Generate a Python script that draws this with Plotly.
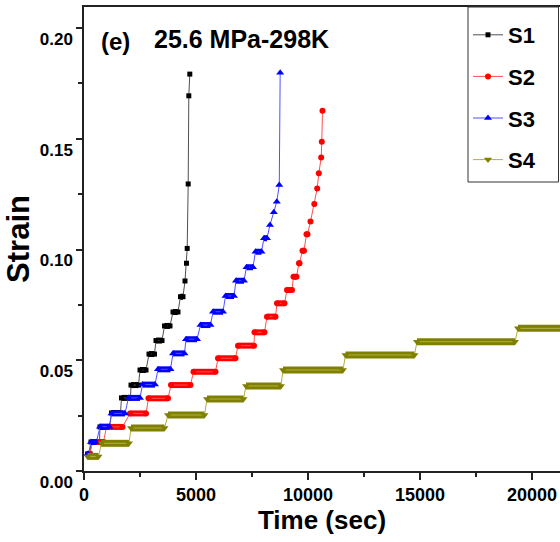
import plotly.graph_objects as go

# ---------------- data ----------------
# Each series: plateau start time, plateau end time (sec), strain level
s1_start  = [160, 312, 714, 1228, 1674, 2098, 2500, 2902, 3214, 3594, 3973, 4308, 4509, 4576, 4607, 4652, 4679, 4723]
s1_end    = [268, 692, 1138, 1629, 2076, 2433, 2768, 3147, 3482, 3839, 4196, 4419, 4509, 4576, 4607, 4652, 4679, 4723]
s1_strain = [0.0077, 0.0131, 0.0199, 0.0262, 0.0330, 0.0388, 0.0456, 0.0528, 0.0589, 0.0655, 0.0718, 0.0787,
             0.0858, 0.0938, 0.1005, 0.1296, 0.1694, 0.1792]

s2_start  = [223, 380, 1004, 2053, 2879, 3884, 4888, 5982, 6875, 7611, 8169, 8616, 9062, 9352, 9598, 9754,
             9933, 10111, 10281, 10410, 10482, 10589, 10616, 10647]
s2_end    = [268, 870, 1719, 2768, 3750, 4754, 5870, 6763, 7589, 8058, 8549, 8950, 9285, 9486, 9620, 9821,
             9977, 10111, 10281, 10410, 10482, 10589, 10616, 10647]
s2_strain = [0.0077, 0.0131, 0.0199, 0.0260, 0.0328, 0.0388, 0.0448, 0.0509, 0.0566, 0.0626, 0.0697, 0.0757,
             0.0817, 0.0877, 0.0938, 0.0995, 0.1069, 0.1126, 0.1205, 0.1276, 0.1344, 0.1416, 0.1487, 0.1627]

s3_start  = [156, 312, 714, 1228, 1986, 2611, 3303, 3973, 4553, 5201, 5759, 6317, 6785, 7254, 7656, 8035,
             8303, 8473, 8607, 8718, 8758]
s3_end    = [200, 558, 1138, 1830, 2500, 3169, 3861, 4486, 5044, 5647, 6205, 6696, 7142, 7544, 7924, 8169,
             8303, 8473, 8607, 8718, 8758]
s3_strain = [0.0077, 0.0131, 0.0200, 0.0260, 0.0330, 0.0390, 0.0459, 0.0531, 0.0595, 0.0659, 0.0719, 0.0790,
             0.0859, 0.0920, 0.0990, 0.1051, 0.1111, 0.1168, 0.1216, 0.1291, 0.1798]

s4_start  = [156, 781, 2098, 3750, 5491, 7232, 8884, 11674, 14865, 19374]
s4_end    = [647, 2009, 3594, 5379, 7120, 8794, 11562, 14754, 19240, 21600]
s4_strain = [0.0066, 0.0125, 0.0194, 0.0253, 0.0325, 0.0384, 0.0456, 0.0524, 0.0584, 0.0644]

series_names = ["S1", "S2", "S3", "S4"]
x_ticks = [0, 5000, 10000, 15000, 20000]
x_ticktext = ["0", "5000", "10000", "15000", "20000"]
y_ticks = [0.00, 0.05, 0.10, 0.15, 0.20]
y_ticktext = ["0.00", "0.05", "0.10", "0.15", "0.20"]

# ---------------- styling ----------------
FONT = "Liberation Sans, Arial, sans-serif"
styles = [
    dict(color="#000000", line="#505050", symbol="square", size=5, bar=6),
    dict(color="#ff0000", line="#ff5050", symbol="circle", size=6, bar=6),
    dict(color="#0000ff", line="#5050ff", symbol="triangle-up", size=7, bar=6),
    dict(color="#808000", line="#b0b040", symbol="triangle-down", size=7, bar=7),
]
data = [(s1_start, s1_end, s1_strain), (s2_start, s2_end, s2_strain),
        (s3_start, s3_end, s3_strain), (s4_start, s4_end, s4_strain)]

fig = go.Figure()
for name, (st, en, sv), sty in zip(series_names, data, styles):
    # thick plateau bars (dense data clusters)
    bx, by = [], []
    for a, b, v in zip(st, en, sv):
        if b > a:
            bx += [a, b, None]
            by += [v, v, None]
    fig.add_trace(go.Scatter(x=bx, y=by, mode="lines", legendgroup=name, showlegend=False,
                             line=dict(color=sty["color"], width=sty["bar"]), hoverinfo="skip"))
    # thin connecting line with markers
    px, py = [], []
    for a, b, v in zip(st, en, sv):
        px.append(a); py.append(v)
        if b > a:
            px.append(b); py.append(v)
    fig.add_trace(go.Scatter(x=px, y=py, mode="lines+markers", name=name, legendgroup=name,
                             line=dict(color=sty["line"], width=1),
                             marker=dict(color=sty["color"], symbol=sty["symbol"], size=sty["size"])))

L, R, T, B = 84, 0, 7, 71
W, H = 560, 542
pw, ph = W - L - R, H - T - B

def px2x(p):
    return (p - L) / pw

def px2y(p):
    return (H - B - p) / ph

fig.update_layout(
    width=W, height=H,
    margin=dict(l=L, r=R, t=T, b=B),
    paper_bgcolor="white", plot_bgcolor="white",
    showlegend=True,
    legend=dict(x=px2x(468), y=px2y(14), xanchor="left", yanchor="top", bgcolor="rgba(0,0,0,0)",
                borderwidth=0, tracegroupgap=10, itemwidth=30,
                font=dict(family=FONT, size=22, color="black", weight="bold")),
    xaxis=dict(range=[0, 21250], tickvals=x_ticks, ticktext=x_ticktext, ticks="outside", ticklen=7,
               tickwidth=1.5, tickcolor="#222", showline=True, linecolor="#222", linewidth=1.5,
               mirror=True, showgrid=False, zeroline=False,
               minor=dict(dtick=2500, ticks="outside", ticklen=4, tickwidth=1.5, tickcolor="#222"),
               tickfont=dict(family=FONT, size=18, color="black", weight="bold"),
               title=dict(text="Time (sec)", standoff=4,
                          font=dict(family=FONT, size=26, color="black", weight="bold"))),
    yaxis=dict(range=[0, 0.2095], tickvals=y_ticks, ticktext=y_ticktext, ticks="outside", ticklen=6,
               tickwidth=1.5, tickcolor="#222", showline=True, linecolor="#222", linewidth=1.5,
               showgrid=False, zeroline=False, ticklabelshift=11,
               minor=dict(dtick=0.025, ticks="outside", ticklen=4, tickwidth=1.5, tickcolor="#222"),
               tickfont=dict(family=FONT, size=17, color="black", weight="bold"),
               title=dict(text="Strain", standoff=1,
                          font=dict(family=FONT, size=31, color="black", weight="bold"))),
    shapes=[dict(type="rect", xref="paper", yref="paper", x0=px2x(468), x1=px2x(558.5),
                 y0=px2y(182), y1=1, line=dict(color="#333", width=1), layer="above")],
    annotations=[
        dict(text="(e)", x=px2x(115), y=px2y(41), xref="paper", yref="paper", showarrow=False,
             xanchor="center", yanchor="middle",
             font=dict(family=FONT, size=24, color="black", weight="bold")),
        dict(text="25.6 MPa-298K", x=px2x(241.7), y=px2y(39), xref="paper", yref="paper",
             xanchor="center", yanchor="middle",
             showarrow=False, font=dict(family=FONT, size=25, color="black", weight="bold")),
    ],
)

fig.write_html("out.html")
